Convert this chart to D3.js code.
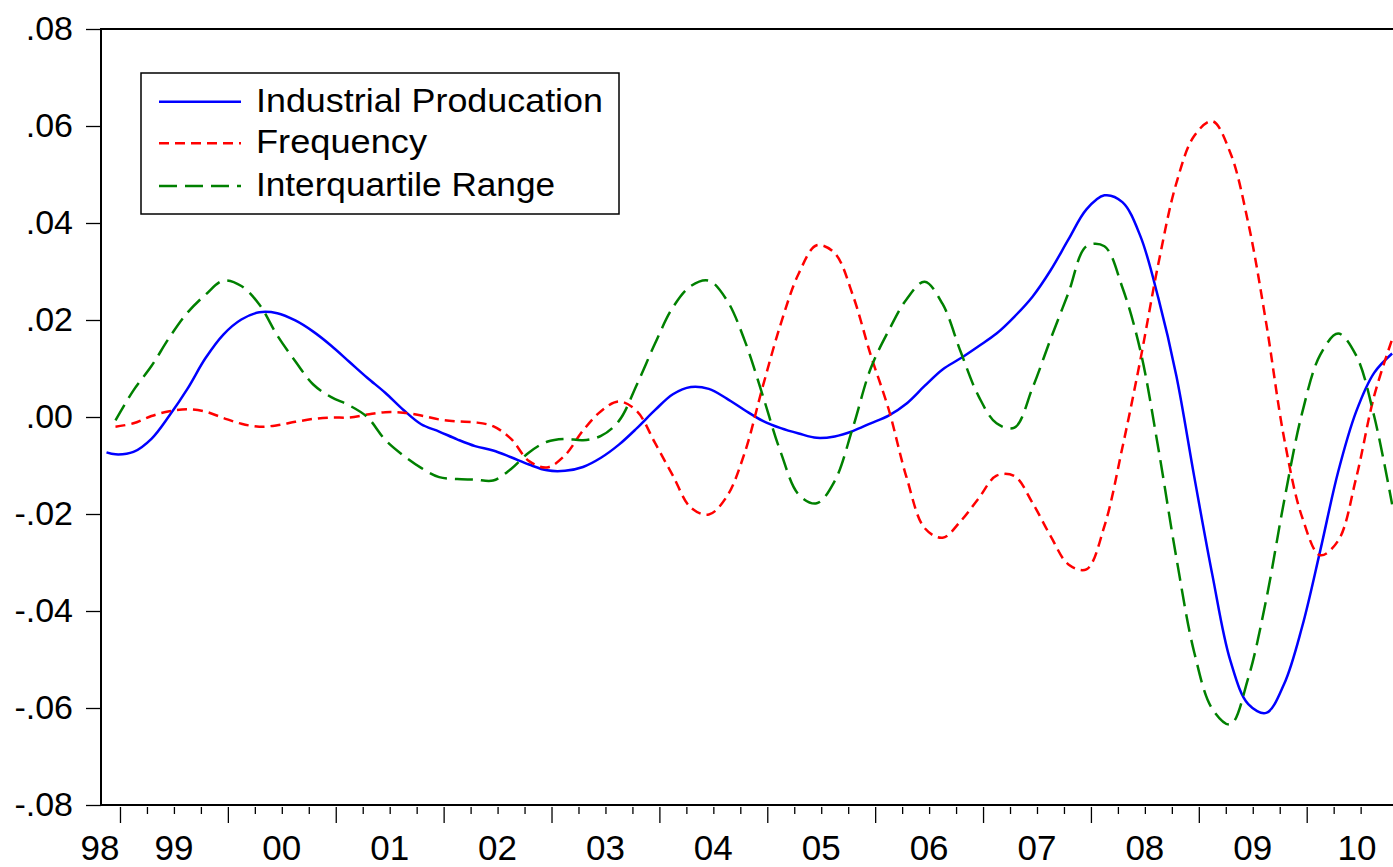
<!DOCTYPE html>
<html>
<head>
<meta charset="utf-8">
<script src="https://cdn.jsdelivr.net/npm/d3@7"></script>
<style>
	body { margin: 0; background: white; }
	text { font-family: Arial, "Liberation Sans", sans-serif; fill: black; }
</style>
</head>
<body>
<div id="chart"></div>
<script>

// monthly observations, read every second month
var dates = ["1998-11", "1998-12",
	"1999-02", "1999-04", "1999-06", "1999-08", "1999-10", "1999-12",
	"2000-02", "2000-04", "2000-06", "2000-08", "2000-10", "2000-12",
	"2001-02", "2001-04", "2001-06", "2001-08", "2001-10", "2001-12",
	"2002-02", "2002-04", "2002-06", "2002-08", "2002-10", "2002-12",
	"2003-02", "2003-04", "2003-06", "2003-08", "2003-10", "2003-12",
	"2004-02", "2004-04", "2004-06", "2004-08", "2004-10", "2004-12",
	"2005-02", "2005-04", "2005-06", "2005-08", "2005-10", "2005-12",
	"2006-02", "2006-04", "2006-06", "2006-08", "2006-10", "2006-12",
	"2007-02", "2007-04", "2007-06", "2007-08", "2007-10", "2007-12",
	"2008-02", "2008-04", "2008-06", "2008-08", "2008-10", "2008-12",
	"2009-02", "2009-04", "2009-06", "2009-08", "2009-10", "2009-12",
	"2010-02", "2010-04", "2010-06", "2010-08", "2010-10"];

var industrial = [-0.0073, -0.0077,
	-0.0072, -0.0045, 0.0003, 0.0058, 0.0121, 0.0170,
	0.0201, 0.0216, 0.0214, 0.0199, 0.0176, 0.0147,
	0.0114, 0.0081, 0.0050, 0.0015, -0.0015, -0.0030,
	-0.0046, -0.0060, -0.0069, -0.0083, -0.0098, -0.0110,
	-0.0111, -0.0103, -0.0084, -0.0057, -0.0023, 0.0014,
	0.0047, 0.0062, 0.0058, 0.0038, 0.0014, -0.0008,
	-0.0023, -0.0034, -0.0043, -0.0040, -0.0029, -0.0013,
	0.0003, 0.0028, 0.0064, 0.0098, 0.0121, 0.0146,
	0.0172, 0.0207, 0.0248, 0.0302, 0.0366, 0.0428,
	0.0457, 0.0443, 0.0373, 0.0245, 0.0085, -0.0124,
	-0.0325, -0.0502, -0.0592, -0.0610, -0.0550, -0.0432,
	-0.0276, -0.0113, 0.0011, 0.0091, 0.0131];

var frequency = [null, -0.0020,
	-0.0013, 0.0002, 0.0012, 0.0016, 0.0011, -0.0002,
	-0.0014, -0.0020, -0.0017, -0.0010, -0.0004, -0.0001,
	-0.0001, 0.0005, 0.0010, 0.0009, 0.0003, -0.0005,
	-0.0009, -0.0011, -0.0019, -0.0045, -0.0091, -0.0104,
	-0.0079, -0.0028, 0.0012, 0.0032, 0.0012, -0.0053,
	-0.0121, -0.0187, -0.0201, -0.0164, -0.0073, 0.0063,
	0.0192, 0.0296, 0.0354, 0.0338, 0.0252, 0.0128,
	0.0016, -0.0125, -0.0229, -0.0249, -0.0215, -0.0168,
	-0.0121, -0.0122, -0.0177, -0.0245, -0.0304, -0.0314,
	-0.0225, -0.0063, 0.0118, 0.0316, 0.0482, 0.0580,
	0.0610, 0.0545, 0.0400, 0.0193, -0.0045, -0.0207,
	-0.0285, -0.0255, -0.0126, 0.0043, 0.0160];

var iqr = [null, -0.0007,
	0.0055, 0.0105, 0.0164, 0.0215, 0.0252, 0.0281,
	0.0270, 0.0232, 0.0168, 0.0115, 0.0067, 0.0041,
	0.0024, 0.0000, -0.0047, -0.0079, -0.0105, -0.0124,
	-0.0128, -0.0129, -0.0131, -0.0107, -0.0073, -0.0051,
	-0.0045, -0.0048, -0.0039, -0.0008, 0.0067, 0.0151,
	0.0226, 0.0270, 0.0281, 0.0241, 0.0157, 0.0044,
	-0.0073, -0.0160, -0.0178, -0.0132, -0.0023, 0.0100,
	0.0178, 0.0243, 0.0279, 0.0233, 0.0135, 0.0043,
	-0.0013, -0.0022, 0.0060, 0.0160, 0.0256, 0.0352,
	0.0352, 0.0267, 0.0137, -0.0065, -0.0290, -0.0486,
	-0.0602, -0.0634, -0.0538, -0.0376, -0.0172, 0.0009,
	0.0128, 0.0172, 0.0127, 0.0002, -0.0180];

var seriesNames = ["Industrial Producation", "Frequency", "Interquartile Range"];
var seriesColors = ["#0000ff", "#ff0000", "#008000"];
var seriesDash = [null, "10,6", "18,8"];

var years = [1998, 1999, 2000, 2001, 2002, 2003, 2004, 2005, 2006, 2007, 2008, 2009, 2010];
var yearLabels = ["98", "99", "00", "01", "02", "03", "04", "05", "06", "07", "08", "09", "10"];
var yTicks = [-0.08, -0.06, -0.04, -0.02, 0, 0.02, 0.04, 0.06, 0.08];

var width = 1393;
var height = 867;
var left = 101;
var top_ = 29;
var bottom = 805;

function toYear(s) {
	var p = s.split("-");
	return +p[0] + (+p[1] - 0.5) / 12;
}

var svg = d3.select("#chart")
		.append("svg")
		.attr("width", width)
		.attr("height", height);

svg.append("rect")
	.attr("width", width)
	.attr("height", height)
	.attr("fill", "white");

var xScale = d3.scaleLinear()
		.domain([1998 + 10/12, 2010 + 10/12])
		.range([102, 1396.6]);

var yScale = d3.scaleLinear()
		.domain([-0.08, 0.08])
		.range([bottom, top_]);

// y axis
var yAxis = d3.axisLeft(yScale)
		.tickValues(yTicks)
		.tickSize(15)
		.tickPadding(13)
		.tickFormat(function(d) {
			return (d < 0 ? "-" : "") + Math.abs(d).toFixed(2).slice(1);
		});

var yAxisHandle = svg.append("g")
	.attr("transform", "translate(" + left + ",0)")
	.call(yAxis);
yAxisHandle.select(".domain").remove();
yAxisHandle.selectAll("line").attr("stroke", "black").attr("stroke-width", 1.3);
yAxisHandle.selectAll("text")
	.attr("font-size", 34)
	.attr("font-family", "Arial, 'Liberation Sans', sans-serif");

// x axis: quarters, long ticks at year starts
var quarterTicks = d3.range(1999, 2010.51, 0.25);

var xMinor = d3.axisBottom(xScale)
		.tickValues(quarterTicks.filter(function(d) { return d % 1 !== 0; }))
		.tickSize(7)
		.tickFormat("");

var xMajor = d3.axisBottom(xScale)
		.tickValues(quarterTicks.filter(function(d) { return d % 1 === 0; }))
		.tickSize(16)
		.tickFormat("");

[xMinor, xMajor].forEach(function(ax) {
	var g = svg.append("g")
		.attr("transform", "translate(0," + (bottom + 2) + ")")
		.call(ax);
	g.select(".domain").remove();
	g.selectAll("line").attr("stroke", "black").attr("stroke-width", 1.3);
});

svg.selectAll(".year_label")
	.data(years)
	.enter()
	.append("text")
	.attr("class", "year_label")
	.attr("x", function(d) {
		var c = xScale(d + 0.5);
		return Math.max(100, Math.min(1357, c));
	})
	.attr("y", 860)
	.attr("text-anchor", "middle")
	.attr("font-size", 35)
	.text(function(d, i) { return yearLabels[i]; });

// frame
svg.append("rect")
	.attr("x", left)
	.attr("y", top_)
	.attr("width", 1400)
	.attr("height", bottom - top_)
	.attr("fill", "none")
	.attr("stroke", "black")
	.attr("stroke-width", 2);

// lines
var allSeries = [industrial, frequency, iqr];

var line = d3.line()
		.defined(function(d) { return d.value !== null; })
		.x(function(d) { return xScale(toYear(d.date)); })
		.y(function(d) { return yScale(d.value); })
		.curve(d3.curveCatmullRom.alpha(0.5));

var clip = svg.append("clipPath").attr("id", "plotclip");
clip.append("rect")
	.attr("x", left + 1)
	.attr("y", top_ + 1)
	.attr("width", width - left)
	.attr("height", bottom - top_ - 2);

svg.append("g")
	.attr("clip-path", "url(#plotclip)")
	.selectAll("path")
	.data(allSeries)
	.enter()
	.append("path")
	.attr("d", function(vals) {
		return line(vals.map(function(v, i) { return {date: dates[i], value: v}; }));
	})
	.attr("fill", "none")
	.attr("stroke", function(d, i) { return seriesColors[i]; })
	.attr("stroke-width", 2.5)
	.attr("stroke-dasharray", function(d, i) { return seriesDash[i]; });

// legend
var legend = svg.append("g");

legend.append("rect")
	.attr("x", 141)
	.attr("y", 73)
	.attr("width", 478)
	.attr("height", 141)
	.attr("fill", "white")
	.attr("stroke", "black")
	.attr("stroke-width", 1.5);

var rowY = [101.7, 143.3, 186];
var textLen = [347, 171, 299];

legend.selectAll("line")
	.data(seriesNames)
	.enter()
	.append("line")
	.attr("x1", 159)
	.attr("x2", 241)
	.attr("y1", function(d, i) { return rowY[i]; })
	.attr("y2", function(d, i) { return rowY[i]; })
	.attr("stroke", function(d, i) { return seriesColors[i]; })
	.attr("stroke-width", 2.5)
	.attr("stroke-dasharray", function(d, i) { return seriesDash[i]; });

legend.selectAll("text")
	.data(seriesNames)
	.enter()
	.append("text")
	.attr("x", 256)
	.attr("y", function(d, i) { return rowY[i] + 10; })
	.attr("font-size", 34)
	.attr("textLength", function(d, i) { return textLen[i]; })
	.attr("lengthAdjust", "spacingAndGlyphs")
	.text(function(d) { return d; });

</script>
</body>
</html>
